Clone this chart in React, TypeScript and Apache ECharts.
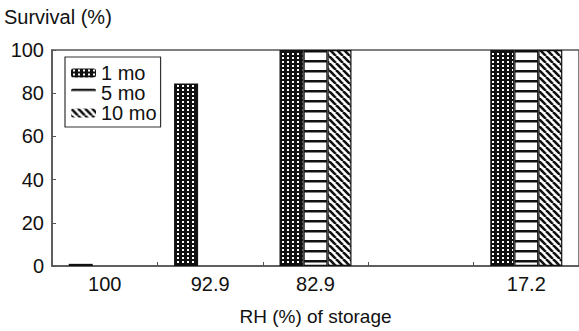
import React, { useEffect, useRef } from 'react';
import * as echarts from 'echarts';

const categories = ['100', '92.9', '82.9', '', '17.2'];
const seriesNames = ['1 mo', '5 mo', '10 mo'];
const oneMonth = [1, 84.5, 100, null, 100];
const fiveMonth = [0, 0, 100, null, 100];
const tenMonth = [0, 0, 100, null, 100];
const yTickInterval = 20;

const FONT = '"Liberation Sans", Arial, Helvetica, sans-serif';
const FS = 20;

function makePattern(kind: string) {
  const c = document.createElement('canvas');
  let w = 5;
  let h = 4;
  if (kind === 'stripes') { w = 10; h = 10; }
  if (kind === 'diag') { w = 7; h = 7; }
  c.width = w;
  c.height = h;
  const ctx = c.getContext('2d')!;
  if (kind === 'dots') {
    ctx.fillStyle = '#111';
    ctx.fillRect(0, 0, w, h);
    ctx.fillStyle = '#fff';
    ctx.fillRect(2, 1, 2, 2);
  } else if (kind === 'stripes') {
    ctx.fillStyle = '#fff';
    ctx.fillRect(0, 0, w, h);
    ctx.fillStyle = '#111';
    ctx.fillRect(0, 0, w, 2.5);
  } else {
    ctx.fillStyle = '#fff';
    ctx.fillRect(0, 0, w, h);
    ctx.strokeStyle = '#111';
    ctx.lineWidth = 2.6;
    for (let k = -1; k <= 1; k++) {
      ctx.beginPath();
      ctx.moveTo(k * w, 0);
      ctx.lineTo(k * w + w, h);
      ctx.stroke();
    }
  }
  return { image: c.toDataURL(), repeat: 'repeat', imageWidth: w, imageHeight: h } as any;
}

export default function App() {
  const ref = useRef<HTMLDivElement>(null);
  useEffect(() => {
    document.body.style.margin = '0';
    if (!ref.current) return;
    const chart = echarts.init(ref.current, null, { renderer: 'svg' });
    const patterns = [makePattern('dots'), makePattern('stripes'), makePattern('diag')];
    const data = [oneMonth, fiveMonth, tenMonth];
    chart.setOption({
      animation: false,
      backgroundColor: '#fff',
      textStyle: { fontFamily: FONT },
      grid: {
        left: 52, right: -4, top: 50, bottom: 63,
        show: true, borderColor: '#555', borderWidth: 1.5, backgroundColor: 'transparent',
      },
      legend: {
        left: 65, top: 57, orient: 'vertical',
        data: seriesNames,
        padding: [6, 4, 4, 6],
        borderColor: '#333', borderWidth: 1.2,
        itemWidth: 25, itemHeight: 9, itemGap: 0,
        textStyle: { fontSize: FS, color: '#111', fontFamily: FONT, lineHeight: 20 },
        itemStyle: { borderWidth: 0 },
      },
      graphic: [
        {
          type: 'text', left: 4, top: 7,
          style: { text: 'Survival (%)', fontSize: FS, fill: '#111', fontFamily: FONT },
        },
      ],
      xAxis: {
        type: 'category',
        data: categories,
        name: 'RH (%) of storage',
        nameLocation: 'middle',
        nameGap: 41,
        nameTextStyle: { fontSize: 19, color: '#111', fontFamily: FONT },
        axisLine: { lineStyle: { color: '#555', width: 1.5 } },
        axisTick: { show: true, inside: true, length: 4, lineStyle: { color: '#555' } },
        axisLabel: { fontSize: FS, color: '#111', margin: 8, fontFamily: FONT },
        splitLine: { show: false },
      },
      yAxis: {
        type: 'value',
        min: 0, max: 100, interval: yTickInterval,
        axisLine: { show: true, lineStyle: { color: '#555', width: 1.5 } },
        axisTick: { show: true, inside: true, length: 4, lineStyle: { color: '#555' } },
        axisLabel: { fontSize: FS, color: '#111', margin: 8, fontFamily: FONT },
        splitLine: { show: false },
      },
      series: seriesNames.map((name, i) => ({
        name,
        type: 'bar',
        data: data[i].map((v) => (v === 0 ? { value: v, itemStyle: { borderWidth: 0 } } : v)),
        barWidth: 24,
        barGap: '0%',
        itemStyle: { color: patterns[i], borderColor: '#111', borderWidth: 1.2 },
      })),
    });
    return () => chart.dispose();
  }, []);
  return <div ref={ref} style={{ width: 579, height: 331 }} />;
}
